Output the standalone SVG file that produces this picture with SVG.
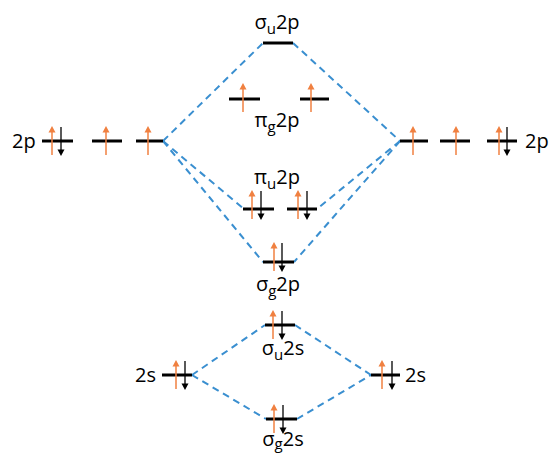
<svg xmlns="http://www.w3.org/2000/svg" xmlns:xlink="http://www.w3.org/1999/xlink" width="552" height="455" viewBox="0 0 552 455">
<style>
.lvl{stroke:#000;stroke-width:3}
.dash{stroke:#3a8fd0;stroke-width:2;stroke-dasharray:7 5;fill:none}
.t{font-family:"Open Sans","Noto Sans",sans-serif;font-size:20px;fill:#000}
.c{text-anchor:middle}
.sub{font-size:15px}
</style>
<defs>
<g id="up"><line x1="0" y1="14" x2="0" y2="-10" stroke="#f08040" stroke-width="1.5"/><polygon points="0,-15 -3.5,-8.5 3.5,-8.5" fill="#f08040"/></g>
<g id="dn"><line x1="0" y1="-14" x2="0" y2="10" stroke="#000" stroke-width="1.3"/><polygon points="0,15 -3.5,8.5 3.5,8.5" fill="#000"/></g>
</defs>
<rect width="552" height="455" fill="#fff"/>
<g id="connectors">
<line class="dash" x1="163" y1="141" x2="263" y2="43"/>
<line class="dash" x1="293" y1="43" x2="400" y2="141"/>
<line class="dash" x1="163" y1="141" x2="244" y2="209"/>
<line class="dash" x1="163" y1="141" x2="263" y2="262"/>
<line class="dash" x1="400" y1="141" x2="317" y2="209"/>
<line class="dash" x1="400" y1="141" x2="294" y2="262"/>
<line class="dash" x1="192" y1="375" x2="265" y2="325"/>
<line class="dash" x1="295" y1="325" x2="371" y2="375"/>
<line class="dash" x1="192" y1="375" x2="266" y2="419"/>
<line class="dash" x1="297" y1="419" x2="371" y2="375"/>
</g>
<g id="left-2p">
<text class="t" x="12" y="148">2p</text>
<line class="lvl" x1="42" y1="141" x2="73" y2="141"/>
<use xlink:href="#up" x="52" y="141"/><use xlink:href="#dn" x="61" y="141"/>
<line class="lvl" x1="92" y1="141" x2="122" y2="141"/>
<use xlink:href="#up" x="106" y="141"/>
<line class="lvl" x1="136" y1="141" x2="163" y2="141"/>
<use xlink:href="#up" x="148" y="141"/>
</g>
<g id="right-2p">
<line class="lvl" x1="400" y1="141" x2="428" y2="141"/>
<use xlink:href="#up" x="413" y="141"/>
<line class="lvl" x1="440" y1="141" x2="470" y2="141"/>
<use xlink:href="#up" x="456" y="141"/>
<line class="lvl" x1="487" y1="141" x2="517" y2="141"/>
<use xlink:href="#up" x="499" y="141"/><use xlink:href="#dn" x="507" y="141"/>
<text class="t" x="525" y="148">2p</text>
</g>
<g id="sigma-u-2p">
<text class="t c" x="277" y="29">σ<tspan class="sub" dy="5">u</tspan><tspan dy="-5">2p</tspan></text>
<line class="lvl" x1="263" y1="43" x2="293" y2="43"/>
</g>
<g id="pi-g-2p">
<line class="lvl" x1="229" y1="99" x2="260" y2="99"/>
<use xlink:href="#up" x="243" y="98"/>
<line class="lvl" x1="300" y1="99" x2="329" y2="99"/>
<use xlink:href="#up" x="311" y="98"/>
<text class="t c" x="277" y="127">π<tspan class="sub" dy="5">g</tspan><tspan dy="-5">2p</tspan></text>
</g>
<g id="pi-u-2p">
<text class="t c" x="277" y="184">π<tspan class="sub" dy="5">u</tspan><tspan dy="-5">2p</tspan></text>
<line class="lvl" x1="243" y1="209" x2="274" y2="209"/>
<use xlink:href="#up" x="252" y="205"/><use xlink:href="#dn" x="261" y="205"/>
<line class="lvl" x1="287" y1="209" x2="317" y2="209"/>
<use xlink:href="#up" x="298" y="205"/><use xlink:href="#dn" x="307" y="205"/>
</g>
<g id="sigma-g-2p">
<line class="lvl" x1="263" y1="262" x2="294" y2="262"/>
<use xlink:href="#up" x="274" y="257"/><use xlink:href="#dn" x="282" y="257"/>
<text class="t c" x="278" y="291">σ<tspan class="sub" dy="5">g</tspan><tspan dy="-5">2p</tspan></text>
</g>
<g id="sigma-u-2s">
<line class="lvl" x1="265" y1="325" x2="295" y2="325"/>
<use xlink:href="#up" x="273" y="325"/><use xlink:href="#dn" x="282" y="325"/>
<text class="t c" x="283" y="355">σ<tspan class="sub" dy="5">u</tspan><tspan dy="-5">2s</tspan></text>
</g>
<g id="left-2s">
<text class="t" x="135" y="382">2s</text>
<line class="lvl" x1="162" y1="375" x2="192" y2="375"/>
<use xlink:href="#up" x="176" y="375"/><use xlink:href="#dn" x="185" y="375"/>
</g>
<g id="right-2s">
<line class="lvl" x1="371" y1="375" x2="400" y2="375"/>
<use xlink:href="#up" x="382" y="375"/><use xlink:href="#dn" x="392" y="375"/>
<text class="t" x="405" y="382">2s</text>
</g>
<g id="sigma-g-2s">
<line class="lvl" x1="266" y1="419" x2="297" y2="419"/>
<use xlink:href="#up" x="274" y="419"/><use xlink:href="#dn" x="283" y="419"/>
<text class="t c" x="283" y="446">σ<tspan class="sub" dy="3">g</tspan><tspan dy="-3">2s</tspan></text>
</g>
</svg>
